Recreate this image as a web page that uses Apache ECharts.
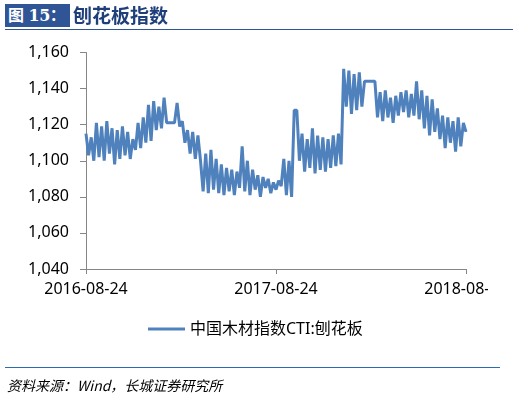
<!DOCTYPE html>
<html>
<head>
<meta charset="utf-8">
<script src="https://cdn.jsdelivr.net/npm/echarts@6/dist/echarts.min.js"></script>
<style>
  body { margin: 0; background: #fff; }
  .wrap { position: relative; width: 513px; height: 398px; overflow: hidden; }
  #chart { position: absolute; left: 0; top: 0; width: 488px; height: 398px; }
  .title-box {
    position: absolute; left: 5px; top: 4px; width: 65px; height: 23px;
    background: #2F5597; color: #fff; font-family: 'DejaVu Serif', 'Noto Sans CJK SC', serif;
    font-weight: bold; font-size: 16px; line-height: 23px; padding-left: 3px; box-sizing: border-box;
    white-space: nowrap; letter-spacing: -0.5px;
  }
  .title-text {
    position: absolute; left: 73px; top: 3px; color: #1F3F7A;
    font-family: 'Noto Sans CJK SC', sans-serif; font-weight: bold; font-size: 19px; line-height: 24px;
  }
  .line-top { position: absolute; left: 5px; top: 29px; width: 508px; height: 1px; background: #2F5597; }
  .line-bottom { position: absolute; left: 5px; top: 367px; width: 495px; height: 1px; background: #2E6BB0; }
  .source {
    position: absolute; left: 7px; top: 375px; font-family: 'Noto Sans CJK SC', serif;
    font-style: italic; font-size: 14px; color: #000;
  }
</style>
</head>
<body>
<div class="wrap">
  <div id="chart"></div>
  <div class="title-box">图 15：</div>
  <div class="title-text">刨花板指数</div>
  <div class="line-top"></div>
  <div class="line-bottom"></div>
  <div class="source">资料来源：Wind，长城证券研究所</div>
</div>
<script>
// 每 5 天一个点，2016-08-24 ~ 2018-08-24
const startDate = '2016-08-24'
const stepDays = 5
const seriesName = '中国木材指数CTI:刨花板'
const ctiValues = [
  1115, 1103, 1113, 1100, 1121, 1102, 1119, 1100, 1122, 1104,
  1118, 1098, 1117, 1101, 1119, 1103, 1116, 1101, 1112, 1106,
  1121, 1107, 1124, 1110, 1131, 1111, 1133, 1117, 1130, 1118,
  1135, 1121, 1121, 1121, 1121, 1132, 1119, 1122, 1110, 1117,
  1104, 1116, 1101, 1114, 1100, 1083, 1104, 1082, 1106, 1084,
  1101, 1082, 1098, 1081, 1096, 1083, 1095, 1081, 1094, 1085,
  1108, 1083, 1100, 1081, 1095, 1084, 1092, 1080, 1091, 1085,
  1090, 1082, 1088, 1084, 1089, 1086, 1101, 1081, 1100, 1080,
  1128, 1128, 1100, 1115, 1094, 1112, 1096, 1118, 1093, 1114,
  1095, 1113, 1094, 1112, 1096, 1114, 1097, 1115, 1098, 1151,
  1130, 1150, 1126, 1148, 1128, 1149, 1130, 1144, 1144, 1144,
  1144, 1144, 1124, 1138, 1122, 1139, 1124, 1135, 1121, 1136,
  1125, 1138, 1127, 1139, 1124, 1137, 1125, 1144, 1123, 1139,
  1118, 1136, 1114, 1134, 1116, 1129, 1112, 1125, 1107, 1124,
  1110, 1122, 1105, 1124, 1108, 1121, 1116
]
const yTicks = { min: 1040, max: 1160, interval: 20 }

// 日期类目
const dateArr = []
const d0 = new Date(startDate + 'T00:00:00Z')
for (let i = 0; i < ctiValues.length; i++) {
  const d = new Date(d0.getTime() + i * stepDays * 86400000)
  dateArr.push(d.toISOString().slice(0, 10))
}

const labelFont = "'Noto Sans', 'Noto Sans CJK SC', sans-serif"

const option = {
  animation: false,
  grid: { left: 86, right: 22, top: 52.5, bottom: 129, outerBoundsMode: 'none' },
  legend: {
    left: 143,
    top: 316,
    icon: 'rect',
    itemWidth: 37,
    itemHeight: 3,
    itemGap: 10,
    textStyle: { fontSize: 16, color: '#000', fontFamily: labelFont },
    data: [seriesName]
  },
  xAxis: {
    type: 'category',
    boundaryGap: false,
    data: dateArr,
    axisLine: { lineStyle: { color: '#868686', width: 1 } },
    axisTick: { show: true, interval: 72, length: 5, lineStyle: { color: '#868686' } },
    axisLabel: { interval: 72, margin: 12, fontSize: 16, color: '#000', fontFamily: labelFont }
  },
  yAxis: {
    type: 'value',
    min: yTicks.min,
    max: yTicks.max,
    interval: yTicks.interval,
    splitLine: { show: false },
    axisLine: { show: true, lineStyle: { color: '#868686', width: 1 } },
    axisTick: { show: true, length: 6, lineStyle: { color: '#868686' } },
    axisLabel: {
      margin: 17, fontSize: 16, color: '#000', fontFamily: labelFont,
      formatter: v => v.toLocaleString('en-US')
    }
  },
  series: [{
    name: seriesName,
    type: 'line',
    data: ctiValues,
    symbol: 'none',
    itemStyle: { color: '#4F81BD' },
    lineStyle: { color: '#4F81BD', width: 3 }
  }]
}

const myChart = echarts.init(document.getElementById('chart'))
myChart.setOption(option)
</script>
</body>
</html>
